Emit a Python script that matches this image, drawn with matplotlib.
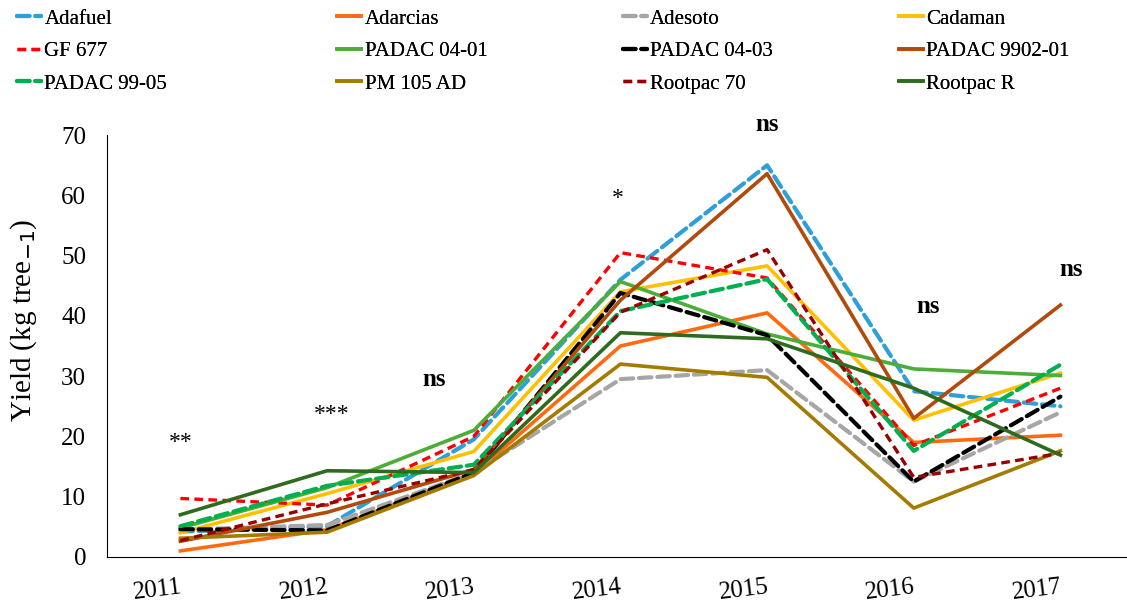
import numpy as np
import matplotlib.pyplot as plt

plt.rcParams['font.family'] = ['Liberation Serif', 'DejaVu Serif']

years = ['2011', '2012', '2013', '2014', '2015', '2016', '2017']

# mean yield per rootstock (kg per tree)
adafuel = [4.2, 5.1, 19.5, 46.0, 65.0, 27.5, 25.0]
adarcias = [1.0, 4.5, 13.7, 35.0, 40.5, 19.0, 20.2]
adesoto = [4.5, 5.3, 14.0, 29.5, 31.0, 12.5, 24.0]
cadaman = [4.0, 10.5, 17.5, 44.0, 48.3, 22.7, 30.5]
gf677 = [9.7, 8.6, 20.0, 50.5, 46.3, 18.5, 28.0]
padac0401 = [4.8, 11.5, 21.0, 45.7, 37.0, 31.2, 30.1]
padac0403 = [4.6, 4.4, 14.0, 43.8, 36.8, 12.5, 26.6]
padac990201 = [2.6, 7.4, 14.5, 42.6, 63.6, 23.0, 41.8]
padac9905 = [5.1, 11.8, 15.3, 40.8, 46.1, 17.6, 31.9]
pm105ad = [3.1, 4.1, 13.5, 32.0, 29.8, 8.1, 17.6]
rootpac70 = [2.7, 8.8, 14.5, 40.6, 51.0, 13.2, 17.2]
rootpacR = [7.0, 14.3, 14.0, 37.2, 36.2, 28.0, 16.9]

# significance of rootstock effect each year, with label position
sig_text = ['**', '***', 'ns', '*', 'ns', 'ns', 'ns']
sig_x = [0.0, 1.03, 1.73, 2.98, 4.0, 5.1, 6.07]
sig_y = [19.0, 23.6, 29.4, 59.5, 71.8, 41.6, 47.7]

series = [
    ('Adafuel', adafuel, '#2E9FD8', 'long'),
    ('Adarcias', adarcias, '#FF6A10', 'solid'),
    ('Adesoto', adesoto, '#A6A6A6', 'long'),
    ('Cadaman', cadaman, '#FFC000', 'solid'),
    ('GF 677', gf677, '#FF0000', 'short'),
    ('PADAC 04-01', padac0401, '#4CAD38', 'solid'),
    ('PADAC 04-03', padac0403, '#000000', 'long'),
    ('PADAC 9902-01', padac990201, '#B24A0C', 'solid'),
    ('PADAC 99-05', padac9905, '#00B050', 'long'),
    ('PM 105 AD', pm105ad, '#A47B00', 'solid'),
    ('Rootpac 70', rootpac70, '#990000', 'short'),
    ('Rootpac R', rootpacR, '#2F6B1F', 'solid'),
]

fig = plt.figure(figsize=(11.27, 6.06), dpi=100)
ax = fig.add_axes([0.095, 0.081, 0.911, 0.696])

x = np.arange(len(years))
lines = []
for name, vals, col, style in series:
    if style == 'long':
        ln, = ax.plot(x, vals, color=col, lw=3.0, dashes=(3.0, 1.4), label=name,
                      dash_capstyle='round')
    elif style == 'short':
        ln, = ax.plot(x, vals, color=col, lw=2.4, dashes=(2.6, 1.6), label=name)
    else:
        ln, = ax.plot(x, vals, color=col, lw=2.6, label=name)
    lines.append(ln)

for t, tx, ty in zip(sig_text, sig_x, sig_y):
    if t == 'ns':
        ax.text(tx, ty, t, ha='center', va='center', fontsize=18,
                fontweight='bold', clip_on=False)
    else:
        ax.text(tx, ty, t, ha='center', va='center', fontsize=17,
                clip_on=False)

ax.set_xlim(-0.5, 6.5)
ax.set_ylim(0, 70)
ax.set_yticks(range(0, 71, 10))
ax.set_xticks(x)
ax.set_xticklabels(years, rotation=7, ha='right', va='top',
                   rotation_mode='anchor')
ax.tick_params(axis='both', length=0, labelsize=18)
ax.tick_params(axis='x', pad=14)
ax.tick_params(axis='y', pad=15)
ax.set_ylabel('Yield (kg tree$_{-1}$)', fontsize=21)
ax.yaxis.set_label_coords(-0.066, 0.56)
ax.spines['top'].set_visible(False)
ax.spines['right'].set_visible(False)

# one legend per column, entries run across the rows
col_x = [0.008, 0.292, 0.545, 0.79]
for i, cx in enumerate(col_x):
    leg = fig.legend(handles=lines[i::4], loc='upper left',
                     bbox_to_anchor=(cx, 0.999), frameon=False, fontsize=15,
                     handlelength=1.15, handletextpad=0.15, labelspacing=0.62,
                     borderaxespad=0.0)
    fig.add_artist(leg)

fig.savefig('out.png', dpi=100)
